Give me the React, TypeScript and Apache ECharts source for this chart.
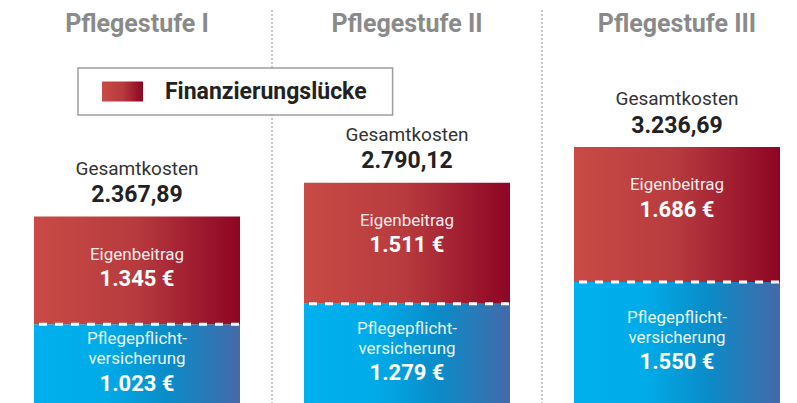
import React, { useEffect, useRef } from "react";
import * as echarts from "echarts";

const categories = ["Pflegestufe I", "Pflegestufe II", "Pflegestufe III"];
const versicherung = [1023, 1279, 1550];
const eigenbeitrag = [1345, 1511, 1686];
const gesamtkosten = [2367.89, 2790.12, 3236.69];
const legendName = "Finanzierungslücke";

const FONT = "Roboto";

function thousands(n: number): string {
  return String(n).replace(/\B(?=(\d{3})+(?!\d))/g, ".");
}
function money(n: number): string {
  const [i, d] = n.toFixed(2).split(".");
  return thousands(Number(i)) + "," + d;
}

export default function App() {
  const ref = useRef<HTMLDivElement>(null);
  useEffect(() => {
    if (!ref.current) return;
    const chart = echarts.init(ref.current, undefined, { renderer: "svg" });
    const redGrad = new echarts.graphic.LinearGradient(0, 0, 1, 0, [
      { offset: 0, color: "#c94b46" },
      { offset: 0.5, color: "#b73a3e" },
      { offset: 1, color: "#8d0524" },
    ]);
    const blueGrad = new echarts.graphic.LinearGradient(0, 0, 1, 0, [
      { offset: 0, color: "#00b0ee" },
      { offset: 0.35, color: "#00abe8" },
      { offset: 0.65, color: "#0a8cc8" },
      { offset: 1, color: "#4469a8" },
    ]);
    const BW = 206;
    chart.setOption({
      animation: false,
      grid: {
        left: 2,
        right: -15,
        top: 10,
        bottom: -3,
        containLabel: false,
        outerBoundsMode: "none",
      },
      legend: {
        data: [legendName],
        left: 78,
        top: 68,
        selectedMode: false,
        icon: "rect",
        itemWidth: 41,
        itemHeight: 20,
        padding: [12, 26, 12, 24],
        borderColor: "#9e9e9e",
        borderWidth: 1.5,
        backgroundColor: "#fff",
        textStyle: {
          fontFamily: FONT,
          fontSize: 23,
          fontWeight: "bold",
          color: "#222",
          padding: [0, 0, 0, 17],
        },
      },
      xAxis: {
        type: "category",
        position: "top",
        data: categories,
        axisLine: { show: false },
        axisTick: { show: false },
        axisLabel: {
          inside: true,
          margin: 1,
          fontFamily: FONT,
          fontSize: 25,
          fontWeight: "bold",
          color: "#8a8a8a",
        },
        splitLine: {
          show: true,
          showMinLine: false,
          showMaxLine: false,
          lineStyle: { color: "#b5b5b5", width: 1.5, type: [2, 2] },
        },
      },
      yAxis: { type: "value", min: 0, max: 4950, show: false },
      series: [
        {
          name: "Pflegepflichtversicherung",
          type: "bar",
          stack: "k",
          barWidth: BW,
          barGap: "-100%",
          data: versicherung,
          itemStyle: { color: blueGrad },
          label: {
            show: true,
            position: ["50%", "48%"],
            align: "center",
            verticalAlign: "middle",
            formatter: (p: any) =>
              "{a|Pflegepflicht-}\n{a|versicherung}\n{b|" + thousands(p.value) + " €}",
            rich: {
              a: { fontFamily: FONT, fontSize: 17, color: "rgba(255,255,255,0.93)", lineHeight: 20, align: "center" },
              b: { fontFamily: FONT, fontSize: 22, fontWeight: "bold", color: "#fff", lineHeight: 30, align: "center" },
            },
          },
        },
        {
          name: legendName,
          type: "bar",
          stack: "k",
          barWidth: BW,
          barGap: "-100%",
          data: eigenbeitrag,
          itemStyle: { color: redGrad },
          label: {
            show: true,
            position: "insideTop",
            distance: 25,
            formatter: (p: any) => "{a|Eigenbeitrag}\n{b|" + thousands(p.value) + " €}",
            rich: {
              a: { fontFamily: FONT, fontSize: 17, color: "rgba(255,255,255,0.93)", lineHeight: 24 },
              b: { fontFamily: FONT, fontSize: 22, fontWeight: "bold", color: "#fff", lineHeight: 26 },
            },
          },
        },
        {
          name: "Gesamtkosten",
          type: "bar",
          barWidth: BW,
          barGap: "-100%",
          data: gesamtkosten,
          silent: true,
          itemStyle: { color: "rgba(0,0,0,0)" },
          label: {
            show: true,
            position: "top",
            distance: 9,
            formatter: (p: any) => "{a|Gesamtkosten}\n{b|" + money(p.value) + "}",
            rich: {
              a: { fontFamily: FONT, fontSize: 19, color: "#333", lineHeight: 27 },
              b: { fontFamily: FONT, fontSize: 23, fontWeight: "bold", color: "#222", lineHeight: 26 },
            },
          },
        },
        {
          name: "Trennlinie",
          type: "custom",
          silent: true,
          z: 10,
          data: versicherung.map((v, i) => [i, v]),
          encode: { x: 0, y: 1 },
          renderItem: (params: any, api: any) => {
            const p = api.coord([api.value(0), api.value(1)]);
            return {
              type: "line",
              shape: { x1: p[0] - BW / 2, y1: p[1], x2: p[0] + BW / 2, y2: p[1] },
              style: { stroke: "#fff", lineWidth: 3, lineDash: [8, 8], lineDashOffset: 11 },
            };
          },
        },
      ],
    });
    return () => chart.dispose();
  }, []);
  return (
    <div
      ref={ref}
      style={{ position: "absolute", left: 0, top: 0, width: 797, height: 403 }}
    />
  );
}
